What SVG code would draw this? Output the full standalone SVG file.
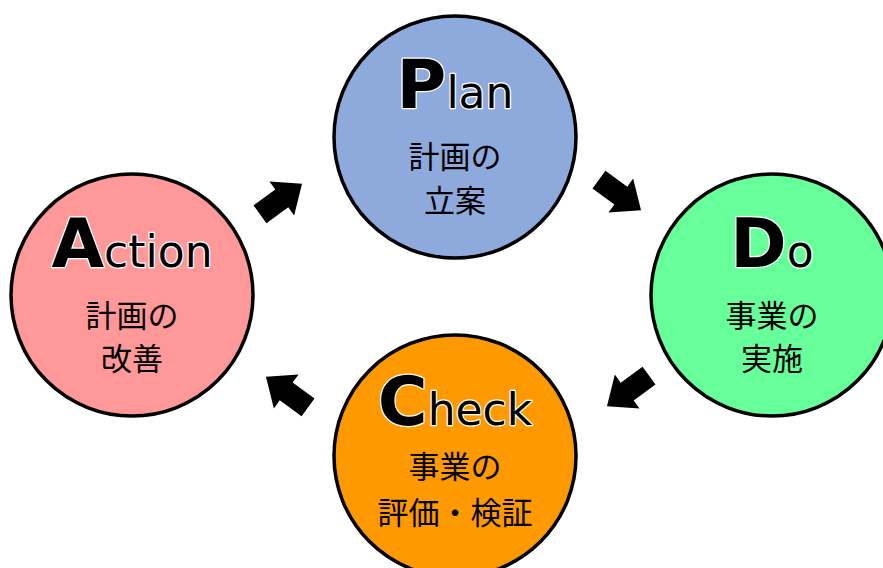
<svg xmlns="http://www.w3.org/2000/svg" width="883" height="568" viewBox="0 0 883 568">
<style>
.c{stroke:#000;stroke-width:3.5}
.t{font-family:"DejaVu Sans","Liberation Sans",sans-serif;fill:#000;stroke:#fff;stroke-width:2.5;paint-order:stroke;stroke-linejoin:round;text-anchor:middle}
.b{font-size:68px;font-weight:bold}
.s{font-size:44px}
.j{font-family:"Noto Sans CJK JP","Noto Sans",sans-serif;font-size:31px;fill:#000;text-anchor:middle}
</style>
<defs>
<path id="arr" d="M26,0 L1,-21 L1,-11 L-26,-11 L-26,11 L1,11 L1,21 Z" fill="#000"/>
</defs>
<rect width="883" height="568" fill="#fff"/>
<g id="plan">
<circle class="c" cx="455" cy="137" r="121" fill="#8eaadc"/>
<text class="t" x="455" y="108"><tspan class="b">P</tspan><tspan class="s">lan</tspan></text>
<text class="j" x="455" y="168">計画の</text>
<text class="j" x="455" y="212">立案</text>
</g>
<g id="do">
<circle class="c" cx="772" cy="295" r="121" fill="#66ff99"/>
<text class="t" x="772" y="267"><tspan class="b">D</tspan><tspan class="s">o</tspan></text>
<text class="j" x="772" y="327">事業の</text>
<text class="j" x="772" y="370">実施</text>
</g>
<g id="check">
<circle class="c" cx="455" cy="456" r="121" fill="#ff9900"/>
<text class="t" x="455" y="425"><tspan class="b">C</tspan><tspan class="s">heck</tspan></text>
<text class="j" x="455" y="478">事業の</text>
<text class="j" x="455" y="524">評価・検証</text>
</g>
<g id="action">
<circle class="c" cx="132" cy="295" r="121" fill="#ff9999"/>
<text class="t" x="132" y="267"><tspan class="b">A</tspan><tspan class="s">ction</tspan></text>
<text class="j" x="132" y="327">計画の</text>
<text class="j" x="132" y="370">改善</text>
</g>
<g id="connectors">
<use href="#arr" transform="translate(281,199) rotate(-36)"/>
<use href="#arr" transform="translate(620,195) rotate(36)"/>
<use href="#arr" transform="translate(628,391) rotate(144)"/>
<use href="#arr" transform="translate(287,392) rotate(-144)"/>
</g>
</svg>
